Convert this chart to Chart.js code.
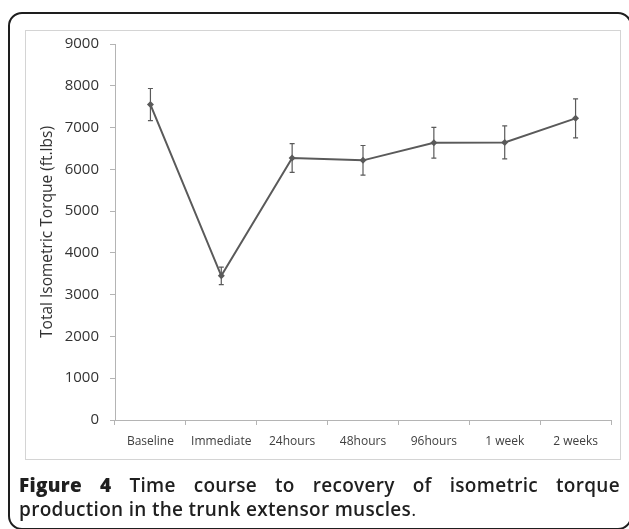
<!DOCTYPE html>
<html>
<head>
<meta charset="utf-8">
<script src="https://cdn.jsdelivr.net/npm/chart.js@4"></script>
<style>
  html, body { margin: 0; padding: 0; background: #fff; overflow: hidden; }
  #page { position: relative; width: 629px; height: 529px; overflow: hidden; }
  #frame {
    position: absolute; left: 8px; top: 12px; width: 624px; height: 518px;
    box-sizing: border-box; border: 2px solid #1e1e1e; border-radius: 14px;
  }
  #inner {
    position: absolute; left: 25px; top: 30px; width: 596px; height: 430px;
    box-sizing: border-box; border: 1px solid #d4d4d4;
  }
  #chart { position: absolute; left: 0; top: 0; }
  .cap {
    position: absolute; left: 19px; width: 601px;
    font-family: "Open Sans", sans-serif; font-size: 19px; font-weight: 600;
    letter-spacing: 0.3px; color: #1f1f1f; white-space: nowrap;
  }
  #cap1 { top: 472px; text-align: justify; text-align-last: justify; white-space: normal; }
  #cap2 { top: 496px; }
  .cap b { font-weight: 800; }
  .cap span.n { font-weight: 400; }
</style>
</head>
<body>
<div id="page">
  <div id="frame"></div>
  <div id="inner"></div>
  <canvas id="chart" width="629" height="529"></canvas>
  <div class="cap" id="cap1"><b>Figure 4</b> Time course to recovery of isometric torque</div>
  <div class="cap" id="cap2">production in the trunk extensor muscles<span class="n">.</span></div>
</div>
<script>
    "use strict";
    // values
    const timePoints = ['Baseline', 'Immediate', '24hours', '48hours', '96hours', '1 week', '2 weeks'];
    const torqueMean = [7550, 3450, 6270, 6215, 6635, 6645, 7220];
    const torqueErr = [385, 210, 343, 355, 367, 395, 465];
    const yTicks = [0, 1000, 2000, 3000, 4000, 5000, 6000, 7000, 8000, 9000];

    const inkColor = '#5a5a5a';
    const axisColor = '#b4b4b4';

    // error bars drawn with the chart's own scales
    const errorBarPlugin = {
        id: 'errorBars',
        beforeDatasetsDraw(chart) {
            const ctx = chart.ctx;
            const xs = chart.scales.x;
            const ys = chart.scales.y;
            ctx.save();
            ctx.strokeStyle = inkColor;
            ctx.lineWidth = 1.2;
            torqueMean.forEach((m, i) => {
                const x = xs.getPixelForValue(i);
                const top = ys.getPixelForValue(m + torqueErr[i]);
                const bot = ys.getPixelForValue(m - torqueErr[i]);
                ctx.beginPath();
                ctx.moveTo(x, top); ctx.lineTo(x, bot);
                ctx.moveTo(x - 2.5, top); ctx.lineTo(x + 2.5, top);
                ctx.moveTo(x - 2.5, bot); ctx.lineTo(x + 2.5, bot);
                ctx.stroke();
            });
            ctx.restore();
        }
    };

    const ctx = document.getElementById('chart');
    const chart = new Chart(ctx, {
        type: 'line',
        data: {
            labels: timePoints,
            datasets: [{
                data: torqueMean,
                borderColor: inkColor,
                backgroundColor: inkColor,
                borderWidth: 2,
                pointStyle: 'rectRot',
                pointRadius: 3.5,
                pointBorderWidth: 0,
                tension: 0,
            }]
        },
        options: {
            responsive: false,
            animation: false,
            devicePixelRatio: 1,
            layout: {padding: {left: 38, top: 44, right: 18, bottom: 69}},
            plugins: {legend: {display: false}, tooltip: {enabled: false}},
            scales: {
                x: {
                    offset: true,
                    grid: {offset: true, drawOnChartArea: false, color: axisColor, tickLength: 5},
                    border: {color: axisColor},
                    ticks: {color: '#404040', font: {family: 'Open Sans', size: 12}, padding: 9, maxRotation: 0},
                    afterFit(scale) { scale.height = 40; },
                },
                y: {
                    min: 0,
                    max: 9000,
                    afterBuildTicks(scale) { scale.ticks = yTicks.map(v => ({value: v})); },
                    grid: {drawOnChartArea: false, color: axisColor, tickLength: 5},
                    border: {color: axisColor},
                    ticks: {
                        color: '#333',
                        font: {family: 'Open Sans', size: 15},
                        padding: 11,
                        callback: v => String(v),
                    },
                    title: {
                        display: true,
                        text: 'Total Isometric Torque (ft.lbs)',
                        color: '#333',
                        font: {family: 'Open Sans', size: 15.5},
                        padding: 0,
                    },
                    afterFit(scale) { scale.width = 115 - 38; },
                }
            }
        },
        plugins: [errorBarPlugin]
    });
</script>
</body>
</html>
